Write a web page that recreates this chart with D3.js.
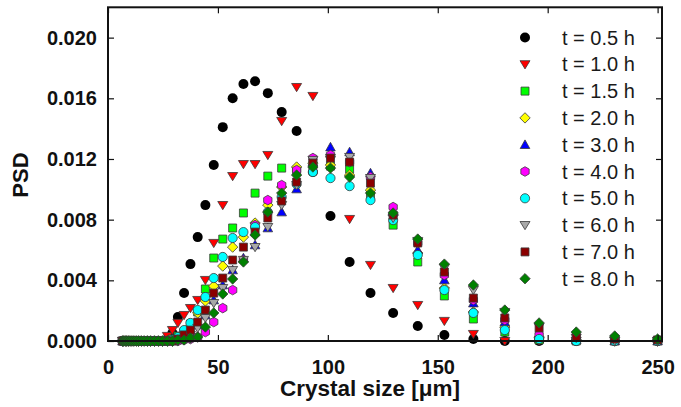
<!DOCTYPE html>
<html>
<head>
<meta charset="utf-8">
<script src="https://cdn.jsdelivr.net/npm/d3@7"></script>
<style>
  html, body { margin: 0; padding: 0; background: #fff; }
  svg { display: block; font-family: "Liberation Sans", Arial, sans-serif; }
</style>
</head>
<body>
<svg id="chart" width="681" height="407"></svg>
<script>
// Particle size bins (crystal size, µm)
const sizes = [6.6, 7.2, 7.8, 8.5, 9.2, 10.0, 10.9, 11.8, 12.8, 13.9, 15.1, 16.4, 17.9, 19.4, 21.1, 22.9, 24.8,
  27.0, 29.3, 31.8, 34.6, 37.5, 40.8, 44.3, 48.1, 52.2, 56.7, 61.6, 66.9, 72.7, 79.0, 85.8, 93.2, 101.2,
  109.9, 119.4, 129.7, 140.9, 153.0, 166.2, 180.5, 196.1, 213.0, 230.5, 250.0];

// Bins below 27 µm are empty for every sampling time
const fineZeros = [0, 0, 0, 0, 0, 0, 0, 0, 0, 0, 0, 0, 0, 0, 0, 0, 0];

// PSD per sampling time, bins from 27 µm upward
const psd05 = [0.00013, 0.00053, 0.00158, 0.00316, 0.00507, 0.00685, 0.00896, 0.0116, 0.0141, 0.0160, 0.01694,
  0.01713, 0.01634, 0.01509, 0.01384, 0.01114, 0.00824, 0.00521, 0.00316, 0.00185, 0.00099, 0.0004, 0.00013, 0, 0, 0, 0, 0];
const psd10 = [0.00033, 0.00072, 0.00119, 0.00171, 0.00217, 0.0027, 0.00402, 0.00646, 0.00896, 0.01087, 0.01166,
  0.01166, 0.01226, 0.0145, 0.01674, 0.01615, 0.01193, 0.00804, 0.00501, 0.00349, 0.00237, 0.00132, 0.00046, 0, 0, 0, 0, 0];
const psd15 = [0, 0.00013, 0.00033, 0.00059, 0.00112, 0.00191, 0.00343, 0.00547, 0.00672, 0.00745, 0.00844,
  0.00975, 0.01087, 0.0114, 0.01127, 0.0116, 0.01153, 0.01133, 0.00962, 0.00764, 0.00521, 0.00297, 0.00145, 0.00059, 0.00007, 0, 0, 0];
const psd20 = [0, 0, 0.00013, 0.00053, 0.00099, 0.00185, 0.00264, 0.00362, 0.00494, 0.00619, 0.00685,
  0.00778, 0.00896, 0.01015, 0.01147, 0.01173, 0.0116, 0.01094, 0.00995, 0.0083, 0.0058, 0.00349, 0.00191, 0.00092, 0.00026, 0.00007, 0, 0];
const psd30 = [0, 0, 0.00007, 0.00026, 0.00053, 0.00105, 0.00171, 0.0027, 0.00369, 0.00468, 0.00547,
  0.00633, 0.00745, 0.0085, 0.01002, 0.0118, 0.01278, 0.01246, 0.01107, 0.0085, 0.006, 0.00402, 0.0025, 0.00125, 0.0004, 0.00007, 0, 0];
const psd40 = [0, 0, 0, 0.00007, 0.00013, 0.00026, 0.00059, 0.00125, 0.00217, 0.00336, 0.00534,
  0.00764, 0.00929, 0.01028, 0.01127, 0.01206, 0.01226, 0.0118, 0.01081, 0.00883, 0.00646, 0.00435, 0.0027, 0.00138, 0.0004, 0.00013, 0, 0];
const psd50 = [0, 0.00007, 0.00026, 0.00072, 0.00119, 0.00204, 0.0029, 0.00415, 0.00554, 0.00679, 0.00718,
  0.00751, 0.0085, 0.00949, 0.01035, 0.01114, 0.01074, 0.01021, 0.00929, 0.00797, 0.00567, 0.00336, 0.00185, 0.00072, 0.00013, 0, 0, 0];
const psd60 = [0, 0, 0, 0.00013, 0.0004, 0.00086, 0.00152, 0.0025, 0.00349, 0.00468, 0.00534,
  0.00619, 0.00751, 0.00896, 0.01028, 0.01193, 0.01206, 0.01213, 0.01074, 0.00811, 0.00659, 0.00481, 0.00336, 0.00191, 0.00092, 0.0002, 0, 0];
const psd70 = [0, 0, 0.00013, 0.0004, 0.00072, 0.00125, 0.00204, 0.00316, 0.00415, 0.00534, 0.00619,
  0.00718, 0.00811, 0.00923, 0.01048, 0.01173, 0.01206, 0.0118, 0.01041, 0.0083, 0.00646, 0.00455, 0.00283, 0.00152, 0.00086, 0.00026, 0.00013, 0.00007];
const psd80 = [0, 0, 0.00007, 0.00007, 0.0002, 0.00026, 0.00092, 0.00185, 0.0031, 0.00409, 0.00521,
  0.00699, 0.0085, 0.00975, 0.01094, 0.01147, 0.0114, 0.01081, 0.00975, 0.00844, 0.00672, 0.00507, 0.00369, 0.00204, 0.00119, 0.00059, 0.00033, 0.00013];

const seriesLabels = ["t = 0.5 h", "t = 1.0 h", "t = 1.5 h", "t = 2.0 h", "t = 3.0 h",
  "t = 4.0 h", "t = 5.0 h", "t = 6.0 h", "t = 7.0 h", "t = 8.0 h"];
const seriesValues = [psd05, psd10, psd15, psd20, psd30, psd40, psd50, psd60, psd70, psd80];
const seriesShapes = ["circle", "triDown", "square", "diamond", "triUp", "hexagon", "circleS", "triDown", "square", "diamond"];
const seriesFills = ["#000000", "#ff0000", "#00ff00", "#ffff00", "#0000ff", "#ff00ff", "#00ffff", "#a8a8a8", "#8b0000", "#008000"];

const xTicks = [0, 50, 100, 150, 200, 250];
const yTicks = [0, 0.004, 0.008, 0.012, 0.016, 0.020];

// Marker outlines
function markerPath(shape) {
  const p = d3.path();
  switch (shape) {
    case "circle": p.arc(0, 0, 5, 0, 2 * Math.PI); break;
    case "circleS": p.arc(0, 0, 4.6, 0, 2 * Math.PI); break;
    case "triDown": p.moveTo(-5, -3.6); p.lineTo(5, -3.6); p.lineTo(0, 4.6); p.closePath(); break;
    case "triUp": p.moveTo(-4.8, 3.8); p.lineTo(4.8, 3.8); p.lineTo(0, -4.8); p.closePath(); break;
    case "square": p.rect(-4, -4, 8, 8); break;
    case "diamond": p.moveTo(0, -5.2); p.lineTo(5.2, 0); p.lineTo(0, 5.2); p.lineTo(-5.2, 0); p.closePath(); break;
    case "hexagon":
      for (let k = 0; k < 6; k++) {
        const a = Math.PI / 6 + k * Math.PI / 3, r = 4.8;
        if (k === 0) p.moveTo(r * Math.cos(a), r * Math.sin(a)); else p.lineTo(r * Math.cos(a), r * Math.sin(a));
      }
      p.closePath();
      break;
  }
  return p.toString();
}

const svg = d3.select("#chart");
const x = d3.scaleLinear().domain([0, 252]).range([108, 662]);
const y = d3.scaleLinear().domain([0, 0.022]).range([341, 7.3]);

// Data points, earliest time drawn first
const series = seriesLabels.map((label, i) => ({
  label,
  shape: seriesShapes[i],
  fill: seriesFills[i],
  points: sizes.map((s, j) => ({ s, v: fineZeros.concat(seriesValues[i])[j] }))
}));

const plot = svg.append("g");
series.forEach(sr => {
  plot.append("g").selectAll("path").data(sr.points).join("path")
    .attr("d", markerPath(sr.shape))
    .attr("transform", d => `translate(${x(d.s)},${y(d.v)})`)
    .attr("fill", sr.fill)
    .attr("stroke", sr.fill === "#000000" ? "none" : "#3a3a3a")
    .attr("stroke-width", 0.8);
});

// Axes with inward ticks on all four sides
const tickFont = g => g.selectAll("text")
  .attr("font-size", 20).attr("font-weight", "bold").attr("fill", "#111")
  .attr("font-family", "'Liberation Sans', Arial, sans-serif");

svg.append("g").attr("transform", "translate(0,341)")
  .call(d3.axisBottom(x).tickValues(xTicks).tickSizeInner(-6).tickSizeOuter(0).tickPadding(19).tickFormat(d3.format("d")))
  .call(g => g.select(".domain").remove())
  .call(g => g.selectAll("line").attr("stroke", "#111").attr("stroke-width", 1.2))
  .call(tickFont);

svg.append("g").attr("transform", "translate(108,0)")
  .call(d3.axisLeft(y).tickValues(yTicks).tickSizeInner(-6).tickSizeOuter(0).tickPadding(11).tickFormat(d3.format(".3f")))
  .call(g => g.select(".domain").remove())
  .call(g => g.selectAll("line").attr("stroke", "#111").attr("stroke-width", 1.2))
  .call(tickFont);

svg.append("g").attr("transform", "translate(662,0)")
  .call(d3.axisRight(y).tickValues(yTicks).tickSizeInner(-6).tickSizeOuter(0).tickFormat(""))
  .call(g => g.select(".domain").remove())
  .call(g => g.selectAll("line").attr("stroke", "#111").attr("stroke-width", 1.2));

svg.append("g").attr("transform", "translate(0,7.3)")
  .call(d3.axisTop(x).tickValues(xTicks).tickSizeInner(-6).tickSizeOuter(0).tickFormat(""))
  .call(g => g.select(".domain").remove())
  .call(g => g.selectAll("line").attr("stroke", "#111").attr("stroke-width", 1.2));

// Plot frame
svg.append("rect")
  .attr("x", x(0)).attr("y", y(0.022))
  .attr("width", x(252) - x(0)).attr("height", y(0) - y(0.022))
  .attr("fill", "none").attr("stroke", "#111").attr("stroke-width", 2);

// Axis titles
svg.append("text")
  .attr("x", 370).attr("y", 396)
  .attr("text-anchor", "middle").attr("font-size", 22.5).attr("font-weight", "bold").attr("fill", "#111")
  .text("Crystal size [μm]");

svg.append("text")
  .attr("transform", "translate(28,175) rotate(-90)")
  .attr("text-anchor", "middle").attr("font-size", 22).attr("font-weight", "bold").attr("fill", "#111")
  .text("PSD");

// Legend
const legend = svg.append("g");
series.forEach((sr, i) => {
  const ly = 37.5 + i * 26.8;
  legend.append("path")
    .attr("d", markerPath(sr.shape))
    .attr("transform", `translate(525,${ly})`)
    .attr("fill", sr.fill)
    .attr("stroke", sr.fill === "#000000" ? "none" : "#3a3a3a")
    .attr("stroke-width", 0.8);
  legend.append("text")
    .attr("x", 562).attr("y", ly).attr("dy", "0.35em")
    .attr("font-size", 20).attr("fill", "#1a1a1a")
    .text(sr.label);
});
</script>
</body>
</html>
